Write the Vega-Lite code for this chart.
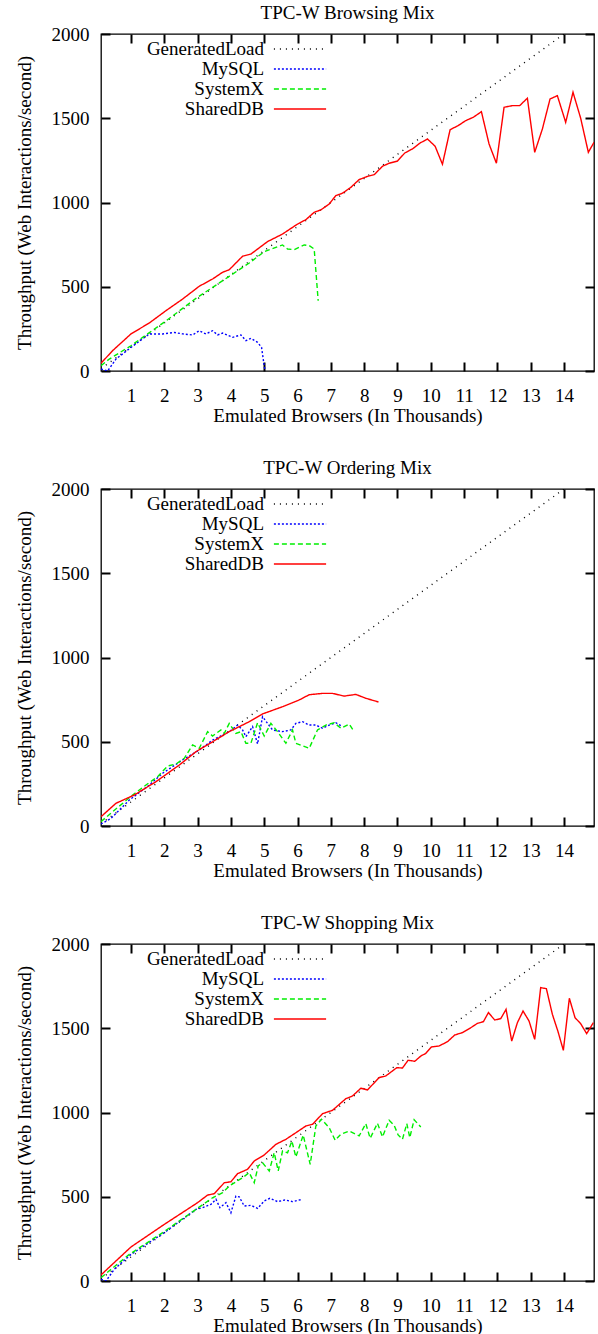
{
  "$schema": "https://vega.github.io/schema/vega-lite/v6.json",
  "padding": {"left": 14, "top": 3, "right": 0, "bottom": 0},
  "spacing": 32,
  "datasets": {
    "browsing": [
      {"series":"GeneratedLoad","x":0.1,"y":14},{"series":"GeneratedLoad","x":14,"y":2000},
      {"series":"MySQL","x":0.1,"y":12},{"series":"MySQL","x":0.3,"y":0},{"series":"MySQL","x":0.55,"y":71},{"series":"MySQL","x":1.0,"y":140},{"series":"MySQL","x":1.55,"y":220},{"series":"MySQL","x":1.95,"y":220},{"series":"MySQL","x":2.3,"y":229},{"series":"MySQL","x":2.55,"y":220},{"series":"MySQL","x":2.85,"y":214},{"series":"MySQL","x":3.05,"y":239},{"series":"MySQL","x":3.25,"y":220},{"series":"MySQL","x":3.45,"y":239},{"series":"MySQL","x":3.6,"y":214},{"series":"MySQL","x":3.75,"y":225},{"series":"MySQL","x":4.05,"y":200},{"series":"MySQL","x":4.3,"y":214},{"series":"MySQL","x":4.45,"y":180},{"series":"MySQL","x":4.6,"y":194},{"series":"MySQL","x":4.8,"y":170},{"series":"MySQL","x":4.92,"y":140},{"series":"MySQL","x":5.0,"y":30},{"series":"MySQL","x":5.03,"y":0},
      {"series":"SystemX","x":0.1,"y":32},{"series":"SystemX","x":0.35,"y":71},{"series":"SystemX","x":1.0,"y":150},{"series":"SystemX","x":1.45,"y":214},{"series":"SystemX","x":2.0,"y":290},{"series":"SystemX","x":2.95,"y":431},{"series":"SystemX","x":3.95,"y":562},{"series":"SystemX","x":4.55,"y":641},{"series":"SystemX","x":5.0,"y":708},{"series":"SystemX","x":5.35,"y":734},{"series":"SystemX","x":5.55,"y":748},{"series":"SystemX","x":5.7,"y":724},{"series":"SystemX","x":5.9,"y":720},{"series":"SystemX","x":6.2,"y":748},{"series":"SystemX","x":6.35,"y":744},{"series":"SystemX","x":6.5,"y":724},{"series":"SystemX","x":6.62,"y":417},
      {"series":"SharedDB","x":0.1,"y":46},{"series":"SharedDB","x":0.45,"y":121},{"series":"SharedDB","x":1.0,"y":220},{"series":"SharedDB","x":1.55,"y":285},{"series":"SharedDB","x":2.05,"y":358},{"series":"SharedDB","x":2.55,"y":427},{"series":"SharedDB","x":3.05,"y":503},{"series":"SharedDB","x":3.45,"y":546},{"series":"SharedDB","x":3.75,"y":586},{"series":"SharedDB","x":3.95,"y":601},{"series":"SharedDB","x":4.35,"y":681},{"series":"SharedDB","x":4.6,"y":694},{"series":"SharedDB","x":5.1,"y":768},{"series":"SharedDB","x":5.55,"y":813},{"series":"SharedDB","x":6.0,"y":872},{"series":"SharedDB","x":6.25,"y":898},{"series":"SharedDB","x":6.5,"y":942},{"series":"SharedDB","x":6.7,"y":956},{"series":"SharedDB","x":6.95,"y":991},{"series":"SharedDB","x":7.15,"y":1041},{"series":"SharedDB","x":7.35,"y":1055},{"series":"SharedDB","x":7.6,"y":1090},{"series":"SharedDB","x":7.85,"y":1136},{"series":"SharedDB","x":8.1,"y":1155},{"series":"SharedDB","x":8.3,"y":1165},{"series":"SharedDB","x":8.55,"y":1215},{"series":"SharedDB","x":8.75,"y":1233},{"series":"SharedDB","x":9.0,"y":1246},{"series":"SharedDB","x":9.22,"y":1294},{"series":"SharedDB","x":9.45,"y":1318},{"series":"SharedDB","x":9.68,"y":1353},{"series":"SharedDB","x":9.9,"y":1377},{"series":"SharedDB","x":10.13,"y":1334},{"series":"SharedDB","x":10.35,"y":1227},{"series":"SharedDB","x":10.58,"y":1432},{"series":"SharedDB","x":10.82,"y":1456},{"series":"SharedDB","x":11.05,"y":1486},{"series":"SharedDB","x":11.28,"y":1506},{"series":"SharedDB","x":11.52,"y":1539},{"series":"SharedDB","x":11.75,"y":1347},{"series":"SharedDB","x":11.97,"y":1233},{"series":"SharedDB","x":12.2,"y":1565},{"series":"SharedDB","x":12.45,"y":1575},{"series":"SharedDB","x":12.67,"y":1575},{"series":"SharedDB","x":12.9,"y":1619},{"series":"SharedDB","x":13.12,"y":1298},{"series":"SharedDB","x":13.35,"y":1436},{"series":"SharedDB","x":13.58,"y":1614},{"series":"SharedDB","x":13.8,"y":1634},{"series":"SharedDB","x":14.05,"y":1476},{"series":"SharedDB","x":14.27,"y":1654},{"series":"SharedDB","x":14.5,"y":1500},{"series":"SharedDB","x":14.73,"y":1298},{"series":"SharedDB","x":14.9,"y":1357}
    ],
    "ordering": [
      {"series":"GeneratedLoad","x":0.1,"y":14},{"series":"GeneratedLoad","x":14,"y":2000},
      {"series":"MySQL","x":0.1,"y":12},{"series":"MySQL","x":0.4,"y":45},{"series":"MySQL","x":0.95,"y":154},{"series":"MySQL","x":1.55,"y":243},{"series":"MySQL","x":1.95,"y":313},{"series":"MySQL","x":2.55,"y":392},{"series":"MySQL","x":3.05,"y":451},{"series":"MySQL","x":3.45,"y":510},{"series":"MySQL","x":3.95,"y":560},{"series":"MySQL","x":4.2,"y":599},{"series":"MySQL","x":4.35,"y":570},{"series":"MySQL","x":4.45,"y":530},{"series":"MySQL","x":4.65,"y":590},{"series":"MySQL","x":4.8,"y":487},{"series":"MySQL","x":4.95,"y":649},{"series":"MySQL","x":5.1,"y":609},{"series":"MySQL","x":5.25,"y":570},{"series":"MySQL","x":5.55,"y":560},{"series":"MySQL","x":5.8,"y":570},{"series":"MySQL","x":5.95,"y":609},{"series":"MySQL","x":6.15,"y":619},{"series":"MySQL","x":6.35,"y":599},{"series":"MySQL","x":6.55,"y":599},{"series":"MySQL","x":6.75,"y":580},{"series":"MySQL","x":6.95,"y":599},{"series":"MySQL","x":7.15,"y":613},{"series":"MySQL","x":7.35,"y":590},
      {"series":"SystemX","x":0.1,"y":26},{"series":"SystemX","x":0.45,"y":85},{"series":"SystemX","x":1.05,"y":184},{"series":"SystemX","x":1.45,"y":243},{"series":"SystemX","x":1.8,"y":293},{"series":"SystemX","x":2.1,"y":356},{"series":"SystemX","x":2.35,"y":368},{"series":"SystemX","x":2.6,"y":402},{"series":"SystemX","x":2.85,"y":481},{"series":"SystemX","x":3.05,"y":461},{"series":"SystemX","x":3.3,"y":560},{"series":"SystemX","x":3.45,"y":534},{"series":"SystemX","x":3.7,"y":570},{"series":"SystemX","x":3.8,"y":549},{"series":"SystemX","x":3.95,"y":609},{"series":"SystemX","x":4.15,"y":549},{"series":"SystemX","x":4.3,"y":560},{"series":"SystemX","x":4.45,"y":491},{"series":"SystemX","x":4.6,"y":491},{"series":"SystemX","x":4.8,"y":613},{"series":"SystemX","x":5.0,"y":534},{"series":"SystemX","x":5.2,"y":609},{"series":"SystemX","x":5.4,"y":560},{"series":"SystemX","x":5.65,"y":491},{"series":"SystemX","x":5.85,"y":570},{"series":"SystemX","x":5.95,"y":491},{"series":"SystemX","x":6.35,"y":461},{"series":"SystemX","x":6.6,"y":570},{"series":"SystemX","x":6.85,"y":599},{"series":"SystemX","x":7.1,"y":613},{"series":"SystemX","x":7.3,"y":580},{"series":"SystemX","x":7.55,"y":605},{"series":"SystemX","x":7.7,"y":560},
      {"series":"SharedDB","x":0.1,"y":55},{"series":"SharedDB","x":0.55,"y":135},{"series":"SharedDB","x":1.1,"y":184},{"series":"SharedDB","x":1.75,"y":263},{"series":"SharedDB","x":2.45,"y":362},{"series":"SharedDB","x":2.95,"y":441},{"series":"SharedDB","x":3.45,"y":500},{"series":"SharedDB","x":3.95,"y":560},{"series":"SharedDB","x":4.55,"y":619},{"series":"SharedDB","x":4.95,"y":665},{"series":"SharedDB","x":5.55,"y":708},{"series":"SharedDB","x":6.05,"y":748},{"series":"SharedDB","x":6.35,"y":779},{"series":"SharedDB","x":6.75,"y":787},{"series":"SharedDB","x":7.05,"y":787},{"series":"SharedDB","x":7.4,"y":771},{"series":"SharedDB","x":7.75,"y":781},{"series":"SharedDB","x":8.05,"y":758},{"series":"SharedDB","x":8.43,"y":736}
    ],
    "shopping": [
      {"series":"GeneratedLoad","x":0.1,"y":14},{"series":"GeneratedLoad","x":14,"y":2000},
      {"series":"MySQL","x":0.1,"y":10},{"series":"MySQL","x":0.25,"y":0},{"series":"MySQL","x":0.5,"y":70},{"series":"MySQL","x":1.0,"y":158},{"series":"MySQL","x":2.0,"y":287},{"series":"MySQL","x":2.95,"y":425},{"series":"MySQL","x":3.15,"y":435},{"series":"MySQL","x":3.4,"y":455},{"series":"MySQL","x":3.55,"y":485},{"series":"MySQL","x":3.67,"y":435},{"series":"MySQL","x":3.85,"y":465},{"series":"MySQL","x":4.0,"y":405},{"series":"MySQL","x":4.15,"y":504},{"series":"MySQL","x":4.25,"y":499},{"series":"MySQL","x":4.4,"y":445},{"series":"MySQL","x":4.6,"y":449},{"series":"MySQL","x":4.8,"y":431},{"series":"MySQL","x":5.0,"y":475},{"series":"MySQL","x":5.17,"y":491},{"series":"MySQL","x":5.4,"y":471},{"series":"MySQL","x":5.62,"y":481},{"series":"MySQL","x":5.85,"y":471},{"series":"MySQL","x":6.15,"y":485},
      {"series":"SystemX","x":0.1,"y":20},{"series":"SystemX","x":0.95,"y":158},{"series":"SystemX","x":1.95,"y":287},{"series":"SystemX","x":2.95,"y":425},{"series":"SystemX","x":3.45,"y":494},{"series":"SystemX","x":3.75,"y":524},{"series":"SystemX","x":3.95,"y":564},{"series":"SystemX","x":4.35,"y":613},{"series":"SystemX","x":4.55,"y":643},{"series":"SystemX","x":4.7,"y":583},{"series":"SystemX","x":4.82,"y":683},{"series":"SystemX","x":4.95,"y":702},{"series":"SystemX","x":5.15,"y":653},{"series":"SystemX","x":5.3,"y":761},{"series":"SystemX","x":5.42,"y":653},{"series":"SystemX","x":5.55,"y":772},{"series":"SystemX","x":5.7,"y":761},{"series":"SystemX","x":5.83,"y":831},{"series":"SystemX","x":5.95,"y":736},{"series":"SystemX","x":6.17,"y":866},{"series":"SystemX","x":6.38,"y":692},{"series":"SystemX","x":6.55,"y":920},{"series":"SystemX","x":6.72,"y":960},{"series":"SystemX","x":6.95,"y":910},{"series":"SystemX","x":7.13,"y":835},{"series":"SystemX","x":7.3,"y":871},{"series":"SystemX","x":7.55,"y":890},{"series":"SystemX","x":7.85,"y":861},{"series":"SystemX","x":8.05,"y":934},{"series":"SystemX","x":8.18,"y":847},{"series":"SystemX","x":8.4,"y":936},{"series":"SystemX","x":8.55,"y":855},{"series":"SystemX","x":8.75,"y":954},{"series":"SystemX","x":8.9,"y":924},{"series":"SystemX","x":9.02,"y":867},{"series":"SystemX","x":9.15,"y":841},{"series":"SystemX","x":9.28,"y":934},{"series":"SystemX","x":9.37,"y":851},{"series":"SystemX","x":9.5,"y":957},{"series":"SystemX","x":9.7,"y":914},
      {"series":"SharedDB","x":0.1,"y":36},{"series":"SharedDB","x":1.0,"y":202},{"series":"SharedDB","x":2.0,"y":336},{"series":"SharedDB","x":3.0,"y":465},{"series":"SharedDB","x":3.3,"y":510},{"series":"SharedDB","x":3.5,"y":518},{"series":"SharedDB","x":3.8,"y":583},{"series":"SharedDB","x":4.0,"y":589},{"series":"SharedDB","x":4.2,"y":637},{"series":"SharedDB","x":4.5,"y":663},{"series":"SharedDB","x":4.7,"y":712},{"series":"SharedDB","x":5.0,"y":748},{"series":"SharedDB","x":5.35,"y":811},{"series":"SharedDB","x":5.65,"y":841},{"series":"SharedDB","x":5.95,"y":880},{"series":"SharedDB","x":6.25,"y":920},{"series":"SharedDB","x":6.45,"y":930},{"series":"SharedDB","x":6.75,"y":993},{"series":"SharedDB","x":7.05,"y":1013},{"series":"SharedDB","x":7.45,"y":1082},{"series":"SharedDB","x":7.65,"y":1098},{"series":"SharedDB","x":7.9,"y":1144},{"series":"SharedDB","x":8.1,"y":1134},{"series":"SharedDB","x":8.45,"y":1207},{"series":"SharedDB","x":8.65,"y":1217},{"series":"SharedDB","x":8.98,"y":1266},{"series":"SharedDB","x":9.15,"y":1264},{"series":"SharedDB","x":9.32,"y":1310},{"series":"SharedDB","x":9.52,"y":1304},{"series":"SharedDB","x":9.7,"y":1335},{"series":"SharedDB","x":9.85,"y":1351},{"series":"SharedDB","x":10.02,"y":1389},{"series":"SharedDB","x":10.25,"y":1395},{"series":"SharedDB","x":10.5,"y":1420},{"series":"SharedDB","x":10.72,"y":1460},{"series":"SharedDB","x":10.95,"y":1474},{"series":"SharedDB","x":11.2,"y":1503},{"series":"SharedDB","x":11.4,"y":1529},{"series":"SharedDB","x":11.58,"y":1539},{"series":"SharedDB","x":11.73,"y":1593},{"series":"SharedDB","x":11.92,"y":1549},{"series":"SharedDB","x":12.1,"y":1557},{"series":"SharedDB","x":12.26,"y":1612},{"series":"SharedDB","x":12.43,"y":1424},{"series":"SharedDB","x":12.6,"y":1533},{"series":"SharedDB","x":12.77,"y":1602},{"series":"SharedDB","x":12.95,"y":1543},{"series":"SharedDB","x":13.12,"y":1434},{"series":"SharedDB","x":13.3,"y":1741},{"series":"SharedDB","x":13.47,"y":1735},{"series":"SharedDB","x":13.65,"y":1583},{"series":"SharedDB","x":13.82,"y":1480},{"series":"SharedDB","x":13.98,"y":1369},{"series":"SharedDB","x":14.16,"y":1678},{"series":"SharedDB","x":14.33,"y":1563},{"series":"SharedDB","x":14.5,"y":1527},{"series":"SharedDB","x":14.68,"y":1468},{"series":"SharedDB","x":14.88,"y":1533}
    ]
  },
  "resolve": {"legend": {"color": "independent", "strokeDash": "independent"}},
  "vconcat": [
    {
      "data": {"name": "browsing"},
      "title": "TPC-W Browsing Mix",
      "width": 493, "height": 337,
      "layer": [
        {
          "mark": {"type": "line", "clip": true, "strokeWidth": 1.4},
          "encoding": {
            "x": {"field": "x", "type": "quantitative", "scale": {"domain": [0.1, 14.9], "nice": false, "zero": false}, "axis": {"orient": "bottom", "values": [1,2,3,4,5,6,7,8,9,10,11,12,13,14], "title": "Emulated Browsers (In Thousands)"}},
            "y": {"field": "y", "type": "quantitative", "scale": {"domain": [0, 2000], "nice": false}, "axis": {"orient": "left", "values": [0,500,1000,1500,2000], "format": "d", "title": "Throughput (Web Interactions/second)"}},
            "color": {"field": "series", "type": "nominal", "scale": {"domain": ["GeneratedLoad","MySQL","SystemX","SharedDB"], "range": ["#000000","#0000ff","#00ee00","#ff0000"]}, "legend": {"orient": "none", "legendX": 189, "legendY": 5}},
            "strokeDash": {"field": "series", "type": "nominal", "scale": {"domain": ["GeneratedLoad","MySQL","SystemX","SharedDB"], "range": [[1,5],[2,2],[5,3],[1,0]]}, "legend": {"orient": "none", "legendX": 189, "legendY": 5}}
          }
        },
        {
          "mark": {"type": "line", "opacity": 0},
          "encoding": {
            "x": {"field": "x", "type": "quantitative", "axis": {"orient": "top", "values": [1,2,3,4,5,6,7,8,9,10,11,12,13,14], "labels": false, "title": null}},
            "y": {"field": "y", "type": "quantitative", "axis": {"orient": "right", "values": [0,500,1000,1500,2000], "labels": false, "title": null}},
            "detail": {"field": "series"}
          }
        }
      ],
      "resolve": {"axis": {"x": "independent", "y": "independent"}}
    },
    {
      "data": {"name": "ordering"},
      "title": "TPC-W Ordering Mix",
      "width": 493, "height": 337,
      "layer": [
        {
          "mark": {"type": "line", "clip": true, "strokeWidth": 1.4},
          "encoding": {
            "x": {"field": "x", "type": "quantitative", "scale": {"domain": [0.1, 14.9], "nice": false, "zero": false}, "axis": {"orient": "bottom", "values": [1,2,3,4,5,6,7,8,9,10,11,12,13,14], "title": "Emulated Browsers (In Thousands)"}},
            "y": {"field": "y", "type": "quantitative", "scale": {"domain": [0, 2000], "nice": false}, "axis": {"orient": "left", "values": [0,500,1000,1500,2000], "format": "d", "title": "Throughput (Web Interactions/second)"}},
            "color": {"field": "series", "type": "nominal", "scale": {"domain": ["GeneratedLoad","MySQL","SystemX","SharedDB"], "range": ["#000000","#0000ff","#00ee00","#ff0000"]}, "legend": {"orient": "none", "legendX": 189, "legendY": 5}},
            "strokeDash": {"field": "series", "type": "nominal", "scale": {"domain": ["GeneratedLoad","MySQL","SystemX","SharedDB"], "range": [[1,5],[2,2],[5,3],[1,0]]}, "legend": {"orient": "none", "legendX": 189, "legendY": 5}}
          }
        },
        {
          "mark": {"type": "line", "opacity": 0},
          "encoding": {
            "x": {"field": "x", "type": "quantitative", "axis": {"orient": "top", "values": [1,2,3,4,5,6,7,8,9,10,11,12,13,14], "labels": false, "title": null}},
            "y": {"field": "y", "type": "quantitative", "axis": {"orient": "right", "values": [0,500,1000,1500,2000], "labels": false, "title": null}},
            "detail": {"field": "series"}
          }
        }
      ],
      "resolve": {"axis": {"x": "independent", "y": "independent"}}
    },
    {
      "data": {"name": "shopping"},
      "title": "TPC-W Shopping Mix",
      "width": 493, "height": 337,
      "layer": [
        {
          "mark": {"type": "line", "clip": true, "strokeWidth": 1.4},
          "encoding": {
            "x": {"field": "x", "type": "quantitative", "scale": {"domain": [0.1, 14.9], "nice": false, "zero": false}, "axis": {"orient": "bottom", "values": [1,2,3,4,5,6,7,8,9,10,11,12,13,14], "title": "Emulated Browsers (In Thousands)"}},
            "y": {"field": "y", "type": "quantitative", "scale": {"domain": [0, 2000], "nice": false}, "axis": {"orient": "left", "values": [0,500,1000,1500,2000], "format": "d", "title": "Throughput (Web Interactions/second)"}},
            "color": {"field": "series", "type": "nominal", "scale": {"domain": ["GeneratedLoad","MySQL","SystemX","SharedDB"], "range": ["#000000","#0000ff","#00ee00","#ff0000"]}, "legend": {"orient": "none", "legendX": 189, "legendY": 5}},
            "strokeDash": {"field": "series", "type": "nominal", "scale": {"domain": ["GeneratedLoad","MySQL","SystemX","SharedDB"], "range": [[1,5],[2,2],[5,3],[1,0]]}, "legend": {"orient": "none", "legendX": 189, "legendY": 5}}
          }
        },
        {
          "mark": {"type": "line", "opacity": 0},
          "encoding": {
            "x": {"field": "x", "type": "quantitative", "axis": {"orient": "top", "values": [1,2,3,4,5,6,7,8,9,10,11,12,13,14], "labels": false, "title": null}},
            "y": {"field": "y", "type": "quantitative", "axis": {"orient": "right", "values": [0,500,1000,1500,2000], "labels": false, "title": null}},
            "detail": {"field": "series"}
          }
        }
      ],
      "resolve": {"axis": {"x": "independent", "y": "independent"}}
    }
  ],
  "config": {
    "font": "Liberation Serif",
    "background": "white",
    "view": {"stroke": "black", "strokeWidth": 1.3, "fill": null},
    "axis": {"labelFont": "Liberation Serif", "labelFontSize": 19, "labelColor": "black", "titleFont": "Liberation Serif", "titleFontSize": 19, "titleFontWeight": "normal", "titleColor": "black", "ticks": true, "tickColor": "black", "tickSize": 9, "tickWidth": 2, "offset": -9, "domain": false, "grid": false, "zindex": 1},
    "axisX": {"labelPadding": 15, "titlePadding": 1},
    "axisY": {"labelPadding": 12, "titlePadding": 17},
    "title": {"font": "Liberation Serif", "fontSize": 19, "fontWeight": "normal", "color": "black", "anchor": "middle", "frame": "group", "offset": 2},
    "legend": {"title": null, "labelFont": "Liberation Serif", "labelFontSize": 19, "labelColor": "black", "labelAlign": "right", "labelOffset": -46, "symbolSize": 324, "symbolStrokeWidth": 1.4, "symbolType": "M-2.9,0H2.9", "rowPadding": 0, "padding": 0, "labelLimit": 300}
  }
}
